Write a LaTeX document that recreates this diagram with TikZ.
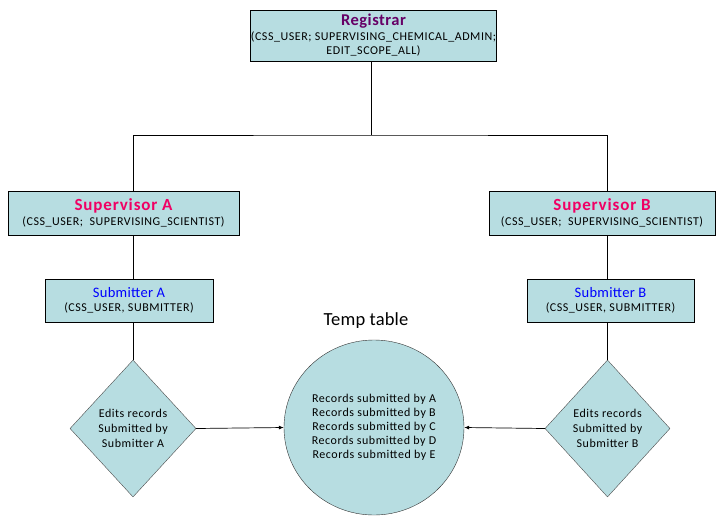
\documentclass[tikz,border=0pt]{standalone}
\usepackage{fontspec}
\setmainfont{Carlito}[LetterSpace=4.5]
\usetikzlibrary{shapes.geometric,arrows.meta}
\definecolor{boxfill}{RGB}{183,221,225}
\definecolor{regcol}{RGB}{102,0,102}
\definecolor{supcol}{RGB}{240,0,100}
\definecolor{subcol}{RGB}{0,0,255}
\tikzset{
  rolebox/.style={draw=black, fill=boxfill, line width=0.8pt, rectangle, inner sep=0pt, align=center, font=\fontsize{12}{14.5}\selectfont},
  dia/.style={draw=black!70, fill=boxfill, diamond, inner sep=0pt, align=center, font=\fontsize{12}{15}\selectfont},
  conn/.style={draw=black, line width=0.7pt},
  arr/.style={conn, -{Latex[length=5pt,width=4pt]}}
}
\begin{document}
\begin{tikzpicture}[x=1pt,y=-1pt]
\useasboundingbox (0,0) rectangle (720,517);
\node[rolebox, minimum width=243pt, minimum height=51pt] (reg) at (373.5,35.5)
  {{\fontsize{16.5}{18}\selectfont\addfontfeature{LetterSpace=3}\bfseries\color{regcol}Registrar}\\(CSS\_USER; SUPERVISING\_CHEMICAL\_ADMIN;\\EDIT\_SCOPE\_ALL)};
\node[rolebox, minimum width=231pt, minimum height=44pt] (supA) at (123.5,213)
  {{\fontsize{17}{19}\selectfont\addfontfeature{LetterSpace=5}\bfseries\color{supcol}Supervisor A}\\(CSS\_USER;\ \ SUPERVISING\_SCIENTIST)};
\node[rolebox, minimum width=226pt, minimum height=44pt] (supB) at (602,213)
  {{\fontsize{17}{19}\selectfont\addfontfeature{LetterSpace=5}\bfseries\color{supcol}Supervisor B}\\(CSS\_USER;\ \ SUPERVISING\_SCIENTIST)};
\node[rolebox, minimum width=168pt, minimum height=43pt] (subA) at (129,300.5)
  {{\fontsize{14.5}{17}\selectfont\addfontfeature{LetterSpace=2}\color{subcol}Submitter A}\\(CSS\_USER, SUBMITTER)};
\node[rolebox, minimum width=167pt, minimum height=43pt] (subB) at (610.5,300.5)
  {{\fontsize{14.5}{17}\selectfont\addfontfeature{LetterSpace=2}\color{subcol}Submitter B}\\(CSS\_USER, SUBMITTER)};
\node[dia, minimum width=126pt, minimum height=137pt] (diaA) at (133,428.5)
  {Edits records\\Submitted by\\Submitter A};
\node[dia, minimum width=125pt, minimum height=137pt] (diaB) at (607.5,428.5)
  {Edits records\\Submitted by\\Submitter B};
\node[draw=black!80, fill=boxfill, ellipse, minimum width=180pt, minimum height=175pt, inner sep=0pt, align=center, font=\fontsize{12}{14}\selectfont] (temp) at (374,427.5)
  {Records submitted by A\\Records submitted by B\\Records submitted by C\\Records submitted by D\\Records submitted by E};
\node[font=\fontsize{18.5}{20}\selectfont\addfontfeature{LetterSpace=1}] (ttl) at (366,321) {Temp table};
\coordinate (j) at (371,135);
\draw[conn] (reg.south -| j) -- (j);
\draw[conn] (supA.north -| diaA) |- (j) -| (supB.north -| diaB);
\draw[conn] (supA.south -| diaA) -- (subA.north -| diaA);
\draw[conn] (subA.south -| diaA) -- (diaA.north);
\draw[conn] (supB.south -| diaB) -- (subB.north -| diaB);
\draw[conn] (subB.south -| diaB) -- (diaB.north);
\draw[arr] (diaA.east) -- (temp.west);
\draw[arr] (diaB.west) -- (temp.east);
\end{tikzpicture}
\end{document}
